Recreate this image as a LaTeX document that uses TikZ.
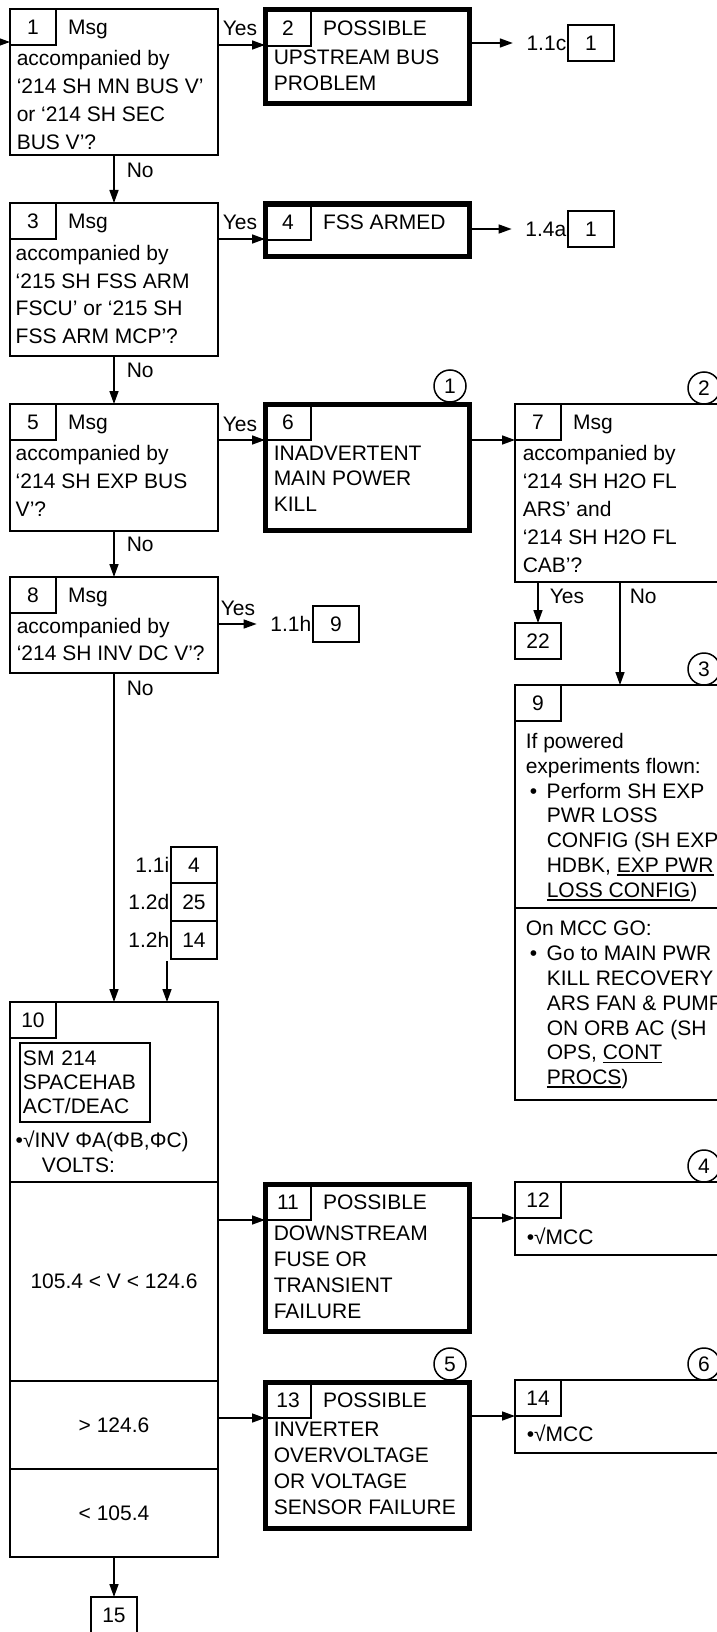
\documentclass[tikz,border=0pt]{standalone}
\usepackage{fontspec}
\setmainfont{Liberation Sans}
\usetikzlibrary{arrows.meta,positioning}
\newcommand{\undl}[1]{\setbox0\hbox{#1}\rlap{\rule[-3.5pt]{\wd0}{1.8pt}}\box0}
\newcommand{\ind}{\hspace*{21pt}}
\newcommand{\bul}{\makebox[21pt][l]{\hspace{4pt}•}}

\begin{document}
\begin{tikzpicture}[x=1pt,y=-1pt,line width=1.5pt,font=\fontsize{21}{25}\selectfont,
box/.style={draw,anchor=north west,inner sep=0pt,outer sep=0pt},
hbox/.style={box,line width=5pt},
num/.style={draw,anchor=north west,inner sep=0pt,outer sep=0pt,minimum width=46pt,minimum height=36pt},
head/.style={anchor=base west,xshift=8pt},
txt/.style={anchor=north west,align=left,inner sep=0pt,font=\fontsize{21}{#1}\selectfont},txt/.default=25,
lbl/.style={anchor=base,inner sep=0pt},
refl/.style={anchor=east,inner sep=1pt},
circ/.style={draw,circle,minimum size=32pt,inner sep=0pt},
arr/.style={-{Triangle[length=13pt,width=9pt]}}]
\useasboundingbox(0,0)rectangle(717,1632);\clip(0,0)rectangle(717,1632);
\node[box,minimum width=208pt,minimum height=146pt](b1)at(10,9){};\node[num](c1)at(b1.north west){1};\node[head](h1)at(c1.base east){Msg};
\node[txt=28](t1)at(16,49.5){accompanied by\\‘214 SH MN BUS V’\\or ‘214 SH SEC\\BUS V’?};
\node[hbox,minimum width=204pt,minimum height=94pt](b2)at(265,10){};\node[num](c2)at(b2.north west){2};\node[head](h2)at(c2.base east){POSSIBLE};
\node[txt=26](t2)at(273,49){UPSTREAM BUS\\PROBLEM};
\coordinate(p0)at(-20,42);\draw[arr](p0)--(p0-|b1.west);
\draw[arr](c1.south-|b1.east)--(c1.south-|b2.west);\node[lbl](y1)at(240,35.5){Yes};
\node[num](ra)at(568,25){1};\node[refl](la)at(ra.west){1.1c};\draw[arr](b2.east|-ra.west)--([xshift=-12pt]la.west);
\node[box,minimum width=208pt,minimum height=153pt](b3)at(10,203){};\node[num](c3)at(b3.north west){3};\node[head](h3)at(c3.base east){Msg};
\node[txt=27.7](t3)at(15,244.5){accompanied by\\‘215 SH FSS ARM\\FSCU’ or ‘215 SH\\FSS ARM MCP’?};
\node[hbox,minimum width=204pt,minimum height=52pt](b4)at(265,204){};\node[num](c4)at(b4.north west){4};\node[head](h4)at(c4.base east){FSS ARMED};
\draw[arr](b1.south)--(b1.south|-b3.north);\node[lbl,anchor=base west](n1)at(126,177.5){No};
\draw[arr](c3.south-|b3.east)--(c3.south-|b4.west);\node[lbl](y3)at(240,229.5){Yes};
\node[num](rb)at(568,211){1};\node[refl](lb)at(rb.west){1.4a};\draw[arr](b4.east|-rb.west)--([xshift=-12pt]lb.west);
\node[box,minimum width=208pt,minimum height=127pt](b5)at(10,404){};\node[num](c5)at(b5.north west){5};\node[head](h5)at(c5.base east){Msg};
\node[txt=27.7](t5)at(15,445){accompanied by\\‘214 SH EXP BUS\\V’?};
\node[hbox,minimum width=204pt,minimum height=126pt](b6)at(265,404){};\node[num](c6)at(b6.north west){6};
\node[txt=25.7](t6)at(273,445){INADVERTENT\\MAIN POWER\\KILL};
\node[box,minimum width=208pt,minimum height=178pt](b7)at(515,404){};\node[num](c7)at(b7.north west){7};\node[head](h7)at(c7.base east){Msg};
\node[txt=28](t7)at(522,445){accompanied by\\‘214 SH H2O FL\\ARS’ and\\‘214 SH H2O FL\\CAB’?};
\draw[arr](b3.south)--(b3.south|-b5.north);\node[lbl,anchor=base west](n3)at(126,377.5){No};
\draw[arr](c5.south-|b5.east)--(c5.south-|b6.west);\node[lbl](y5)at(240,431.5){Yes};
\draw[arr](c6.south-|b6.east)--(c6.south-|b7.west);
\node[circ](o1)at(450,386){1};\node[circ](o2)at(704,388){2};
\node[box,minimum width=208pt,minimum height=96pt](b8)at(10,577){};\node[num](c8)at(b8.north west){8};\node[head](h8)at(c8.base east){Msg};
\node[txt=26.7](t8)at(16,617.5){accompanied by\\‘214 SH INV DC V’?};
\draw[arr](b5.south)--(b5.south|-b8.north);\node[lbl,anchor=base west](n5)at(126,551.5){No};
\node[num](rc)at(313,606){9};\node[refl](lc)at(rc.west){1.1h};\draw[arr](b8.east|-rc.west)--([xshift=-12pt]lc.west);\node[lbl](y8)at(238,615.5){Yes};
\node[num](r22)at(515,623){22};\draw[arr](b7.south-|r22.north)--(r22.north);\node[lbl,anchor=base west](y7)at(549,603.5){Yes};
\coordinate(p7)at(620,582);\node[lbl,anchor=base west](n7)at(629,603.5){No};
\node[box,minimum width=208pt,minimum height=223pt](b9)at(515,685){};\node[num](c9)at(b9.north west){9};\draw[arr](p7)--(p7|-b9.north);
\node[txt=24.8](t9)at(525,732.5){If powered\\experiments flown:\\\bul Perform SH EXP\\\ind PWR LOSS\\\ind CONFIG (SH EXP\\\ind HDBK, \undl{EXP PWR}\\\ind\undl{LOSS CONFIG})};
\node[box,minimum width=208pt,minimum height=192pt](b9b)at(515,908){};
\node[txt=24.8](t9b)at(525,920.5){On MCC GO:\\\bul Go to MAIN PWR\\\ind KILL RECOVERY\\\ind ARS FAN \& PUMP\\\ind ON ORB AC (SH\\\ind OPS, \undl{CONT}\\\ind\undl{PROCS})};
\node[circ](o3)at(704,669){3};
\node[num](rd)at(171,847){4};\node[refl](ld)at(rd.west){1.1i};
\node[num,minimum height=38pt](re)at(171,883){25};\node[refl](le)at(re.west){1.2d};
\node[num,minimum height=38pt](rf)at(171,921){14};\node[refl](lf)at(rf.west){1.2h};
\node[box,minimum width=208pt,minimum height=180pt](b10)at(10,1002){};\node[num](c10)at(b10.north west){10};
\draw[arr](b8.south)--(b8.south|-b10.north);\node[lbl,anchor=base west](n8)at(126,695.5){No};
\coordinate(p14)at(167,961);\draw[arr](p14)--(p14|-b10.north);
\node[box,minimum width=130pt,minimum height=79pt,text width=124pt,align=left,font=\fontsize{21}{24}\selectfont](sm)at(20,1043){SM 214\\SPACEHAB\\ACT/DEAC};
\node[txt](t10)at(15,1130.5){•√INV ΦA(ΦB,ΦC)\\\hspace*{26pt}VOLTS:};
\node[box,minimum width=208pt,minimum height=199pt](v1)at(10,1182){105.4 < V < 124.6};
\node[box,minimum width=208pt,minimum height=88pt](v2)at(10,1381){> 124.6};
\node[box,minimum width=208pt,minimum height=88pt](v3)at(10,1469){< 105.4};
\node[hbox,minimum width=204pt,minimum height=147pt](b11)at(265,1184){};\node[num](c11)at(b11.north west){11};\node[head](h11)at(c11.base east){POSSIBLE};
\node[txt=25.7](t11)at(273,1225.5){DOWNSTREAM\\FUSE OR\\TRANSIENT\\FAILURE};
\node[box,minimum width=208pt,minimum height=73pt](b12)at(515,1182){};\node[num](c12)at(b12.north west){12};\node[lbl,anchor=base west](t12)at(526,1244.5){•√MCC};
\draw[arr](c11.south-|v1.east)--(c11.south-|b11.west);\draw[arr](c12.south-|b11.east)--(c12.south-|b12.west);
\node[circ](o4)at(704,1166){4};
\node[hbox,minimum width=204pt,minimum height=146pt](b13)at(265,1382){};\node[num](c13)at(b13.north west){13};\node[head](h13)at(c13.base east){POSSIBLE};
\node[txt=26](t13)at(273,1421.5){INVERTER\\OVERVOLTAGE\\OR VOLTAGE\\SENSOR FAILURE};
\node[box,minimum width=208pt,minimum height=73pt](b14)at(515,1380){};\node[num](c14)at(b14.north west){14};\node[lbl,anchor=base west](t14)at(526,1441.5){•√MCC};
\draw[arr](c13.south-|v2.east)--(c13.south-|b13.west);\draw[arr](c14.south-|b13.east)--(c14.south-|b14.west);
\node[circ](o5)at(450,1364){5};\node[circ](o6)at(704,1364){6};
\node[num](r15)at(91,1597){15};\draw[arr](v3.south)--(r15.north);
\end{tikzpicture}
\end{document}
